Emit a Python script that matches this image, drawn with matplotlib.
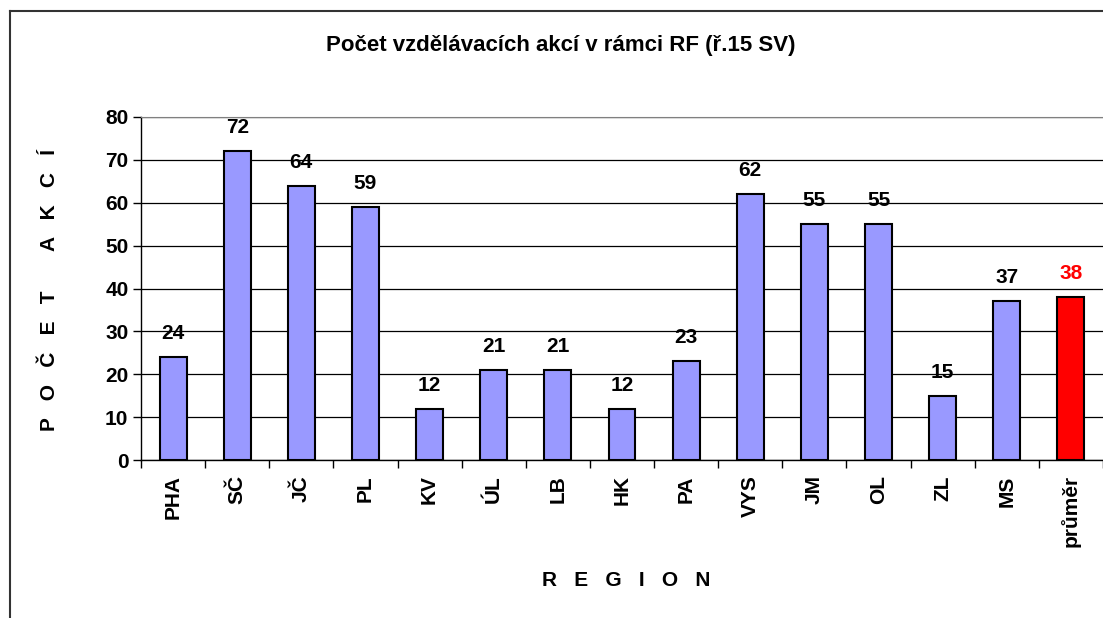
import numpy as np
import matplotlib.pyplot as plt
from matplotlib.lines import Line2D

regions = ['PHA', 'SČ', 'JČ', 'PL', 'KV', 'ÚL', 'LB', 'HK', 'PA', 'VYS', 'JM', 'OL', 'ZL', 'MS', 'průměr']
values = [24, 72, 64, 59, 12, 21, 21, 12, 23, 62, 55, 55, 15, 37, 38]
y_ticks = [0, 10, 20, 30, 40, 50, 60, 70, 80]

plt.rcParams['font.family'] = ['Liberation Sans', 'DejaVu Sans']
plt.rcParams['font.weight'] = 'bold'

fig = plt.figure(figsize=(11.03, 6.18), dpi=100)
ax = fig.add_axes([141 / 1103, 1 - 460 / 618, 1 - 141 / 1103, (460 - 117) / 618])

x = np.arange(len(regions))
colors = ['#9999FF'] * (len(regions) - 1) + ['#FF0000']
bars = ax.bar(x, values, width=0.42, color=colors, edgecolor='black', linewidth=1.5, zorder=3)

for i, v in enumerate(values):
    c = '#FF0000' if i == len(values) - 1 else 'black'
    ax.annotate(str(v), (x[i], v), xytext=(0, 10), textcoords='offset points',
                ha='center', va='bottom', fontsize=15, fontweight='bold', color=c)

ax.set_xlim(-0.5, len(regions) - 0.5)
ax.set_ylim(0, 80)
ax.set_yticks(y_ticks)
ax.set_yticklabels([str(t) for t in y_ticks], fontsize=15, fontweight='bold')
ax.yaxis.grid(True, color='black', linewidth=0.9, zorder=0)
ax.set_axisbelow(True)

ax.set_xticks(x)
ax.set_xticklabels(regions, rotation=90, fontsize=15, fontweight='bold')
ax.tick_params(axis='x', which='major', length=0, pad=11)
ax.set_xticks(np.arange(-0.5, len(regions), 1), minor=True)
ax.tick_params(axis='x', which='minor', length=6, width=1, direction='out')
ax.tick_params(axis='y', length=6, width=1, direction='out', pad=3)

ax.spines['top'].set_color('#808080')
ax.spines['right'].set_visible(False)
ax.spines['left'].set_linewidth(1)
ax.spines['bottom'].set_linewidth(1)

fig.text(561 / 1103, 1 - 45 / 618, 'Počet vzdělávacích akcí v rámci RF (ř.15 SV)',
         ha='center', va='center', fontsize=16, fontweight='bold')
fig.text(50 / 1103, 1 - 290 / 618, 'P   O   Č   E   T       A   K   C   Í', rotation=90,
         ha='center', va='center', fontsize=15, fontweight='bold')
fig.text(626 / 1103, 1 - 581 / 618, 'R   E   G   I   O   N',
         ha='center', va='center', fontsize=15, fontweight='bold')

# outer chart frame
fig.add_artist(Line2D([10 / 1103, 10 / 1103], [0, 1 - 11 / 618], color='#333333', linewidth=1.5,
                      transform=fig.transFigure))
fig.add_artist(Line2D([10 / 1103, 1], [1 - 11 / 618, 1 - 11 / 618], color='#333333', linewidth=1.5,
                      transform=fig.transFigure))

fig.savefig('out.png', dpi=100)
